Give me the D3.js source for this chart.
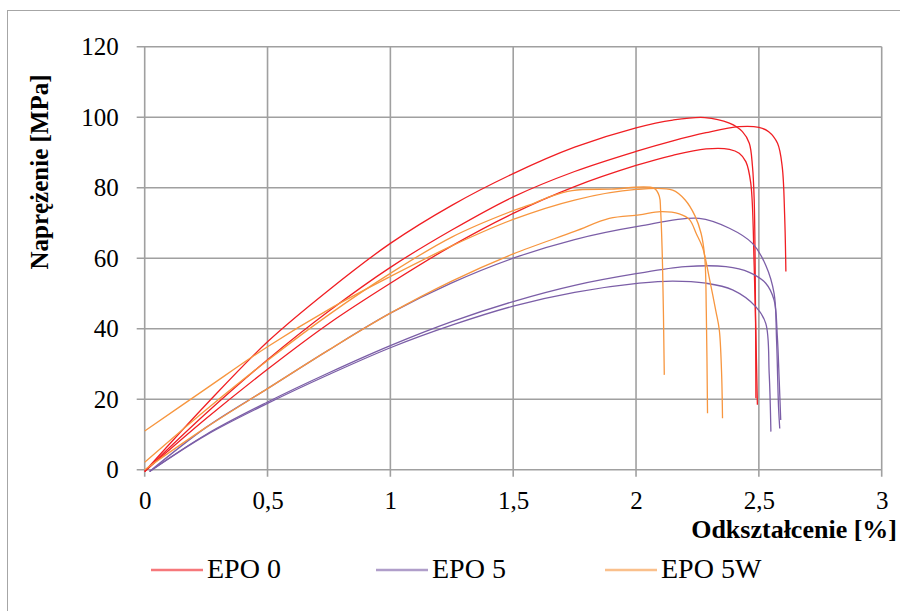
<!DOCTYPE html>
<html>
<head>
<meta charset="utf-8">
<script src="https://cdn.jsdelivr.net/npm/d3@7"></script>
<style>
  body { margin: 0; background: #fff; }
  svg text { font-family: "Liberation Serif", "Times New Roman", Tinos, "DejaVu Serif", serif; fill: #000; }
</style>
</head>
<body>
<script>
// strain [%] vs stress [MPa]
var seriesNames = ["EPO 0", "EPO 5", "EPO 5W"];
var seriesColors = ["#f01e23", "#7b5ea7", "#f7963f"];

var epo0a = [[0,-0.5],[0.25,18.5],[0.5,36.3],[0.75,51],[1,64.2],[1.25,75],[1.5,84],[1.75,91.5],[2,97],[2.15,99.2],[2.28,99.9],[2.38,98.3],[2.433,95.9],[2.461,92.6],[2.474,86],[2.481,76.5],[2.486,48],[2.488,20.3]];
var epo0b = [[0,-0.5],[0.25,16],[0.5,31.2],[0.75,45],[1,57.4],[1.25,68],[1.5,77.4],[1.75,84.6],[2,90.3],[2.15,93.3],[2.285,95.6],[2.42,97.3],[2.5,97.1],[2.54,95.9],[2.576,92.6],[2.595,86],[2.605,72],[2.61,56.2]];
var epo0c = [[0,-0.5],[0.25,14.5],[0.5,28.5],[0.75,41.5],[1,52.9],[1.25,63.5],[1.5,72.7],[1.75,80.3],[2,86.3],[2.15,89.2],[2.285,91],[2.38,90.9],[2.42,89.8],[2.447,87.4],[2.467,81.3],[2.481,57.6],[2.494,18.4]];

var epo5a = [[0.02,-0.5],[0.25,12],[0.5,23],[0.75,34],[1,44.4],[1.25,53],[1.5,60],[1.75,65.3],[2.013,69.1],[2.257,71.3],[2.38,68.5],[2.474,64.2],[2.528,58],[2.562,50],[2.572,36.8],[2.58,17.9],[2.585,11.7]];
var epo5b = [[0.02,-0.5],[0.25,10],[0.5,19.2],[0.75,27.5],[1,35.2],[1.25,42],[1.5,47.7],[1.75,52.3],[2,55.6],[2.2,57.6],[2.366,57.6],[2.461,56],[2.528,52.9],[2.562,48.1],[2.575,38],[2.583,25],[2.589,14.1]];
var epo5c = [[0.02,-0.5],[0.25,9.8],[0.5,18.8],[0.75,27],[1,34.6],[1.25,41],[1.5,46.4],[1.75,50.3],[2.013,52.9],[2.149,53.5],[2.285,52.9],[2.393,51],[2.488,46.2],[2.528,41.5],[2.542,27.3],[2.549,10.8]];

var epo5wa = [[0,2.1],[0.25,17],[0.5,31],[0.75,44],[1,55.7],[1.25,66],[1.5,73.5],[1.567,75.1],[1.65,77.5],[1.74,79.2],[1.9,79.6],[2.074,79.8],[2.095,77.5],[2.1,73.7],[2.108,57.6],[2.115,26.9]];
var epo5wb = [[0,11],[0.25,23],[0.5,34.9],[0.75,45.5],[1,54.8],[1.25,63.5],[1.5,71],[1.75,76.5],[2,79.5],[2.149,79.3],[2.2,76.5],[2.24,72],[2.265,67],[2.28,60],[2.286,45],[2.291,16]];
var epo5wc = [[0,0],[0.25,12],[0.5,23],[0.75,34],[1,44.4],[1.25,53.5],[1.5,61.2],[1.75,67.6],[1.891,71.3],[2.013,72.3],[2.1,73.2],[2.176,72.6],[2.217,71],[2.245,67],[2.271,63],[2.3,53.8],[2.325,45],[2.339,39.6],[2.348,28],[2.352,14.6]];

var xTicks = [0, 0.5, 1, 1.5, 2, 2.5, 3];
var yTicks = [0, 20, 40, 60, 80, 100, 120];

var curves = [
  {s: 0, pts: epo0a}, {s: 0, pts: epo0b}, {s: 0, pts: epo0c},
  {s: 1, pts: epo5a}, {s: 1, pts: epo5b}, {s: 1, pts: epo5c},
  {s: 2, pts: epo5wa}, {s: 2, pts: epo5wb}, {s: 2, pts: epo5wc}
];

var width = 900, height = 611;
var serif = "'Liberation Serif', 'Times New Roman', Tinos, 'DejaVu Serif', serif";

var svg = d3.select("body").append("svg")
    .attr("width", width)
    .attr("height", height);

// outer chart frame
svg.append("rect")
    .attr("x", 7.5).attr("y", 10.5)
    .attr("width", 920).attr("height", 640)
    .style("fill", "none")
    .style("stroke", "#a6a6a6")
    .style("stroke-width", 1);

var x = d3.scaleLinear().domain([0, 3]).range([144.7, 881.7]);
var y = d3.scaleLinear().domain([0, 120]).range([469.7, 46.7]);

// grid + little tick stubs outside the plot
svg.append("g").selectAll("line.hgrid")
    .data(yTicks).enter().append("line")
    .attr("class", "hgrid")
    .attr("x1", x(0) - 8).attr("x2", x(3))
    .attr("y1", function(d) { return y(d); })
    .attr("y2", function(d) { return y(d); })
    .style("stroke", "#a0a0a0")
    .style("stroke-width", 1.6);

svg.append("g").selectAll("line.vgrid")
    .data(xTicks).enter().append("line")
    .attr("class", "vgrid")
    .attr("y1", y(120)).attr("y2", y(0) + 7)
    .attr("x1", function(d) { return x(d); })
    .attr("x2", function(d) { return x(d); })
    .style("stroke", "#a0a0a0")
    .style("stroke-width", 1.6);

var fmt = function(d) { return String(d).replace(".", ","); };

var yAxis = svg.append("g")
    .attr("transform", "translate(" + x(0) + ",0)")
    .call(d3.axisLeft(y).tickValues(yTicks).tickSize(0).tickPadding(26).tickFormat(fmt));
var xAxis = svg.append("g")
    .attr("transform", "translate(0," + y(0) + ")")
    .call(d3.axisBottom(x).tickValues(xTicks).tickSize(0).tickPadding(22).tickFormat(fmt));

[yAxis, xAxis].forEach(function(a) {
  a.attr("font-family", null).attr("font-size", null);
  a.select(".domain").remove();
  a.selectAll("text")
    .style("font-family", serif)
    .style("font-size", "25px")
    .style("fill", "#000");
});

// axis titles
svg.append("text")
    .attr("x", 897).attr("y", 538)
    .attr("text-anchor", "end")
    .style("font-family", serif)
    .style("font-size", "26px")
    .style("font-weight", "bold")
    .text("Odkształcenie [%]");

svg.append("text")
    .attr("transform", "translate(48,172) rotate(-90)")
    .attr("text-anchor", "middle")
    .style("font-family", serif)
    .style("font-size", "25px")
    .style("font-weight", "bold")
    .text("Naprężenie [MPa]");

// curves
var line = d3.line()
    .x(function(d) { return x(d[0]); })
    .y(function(d) { return y(d[1]); })
    .curve(d3.curveCatmullRom.alpha(0.5));

svg.append("g").selectAll("path")
    .data(curves).enter().append("path")
    .attr("d", function(d) { return line(d.pts); })
    .style("fill", "none")
    .style("stroke", function(d) { return seriesColors[d.s]; })
    .style("stroke-width", 1.3);

// legend
var legendX = [151, 376, 605];
var legend = svg.append("g").selectAll("g")
    .data(seriesNames).enter().append("g")
    .attr("transform", function(d, i) { return "translate(" + legendX[i] + ",570)"; });

legend.append("line")
    .attr("x1", 0).attr("x2", 52)
    .style("stroke", function(d, i) { return seriesColors[i]; })
    .style("stroke-opacity", 0.6)
    .style("stroke-width", 2.5);

legend.append("text")
    .attr("x", 56).attr("y", 8)
    .style("font-family", serif)
    .style("font-size", "28px")
    .text(function(d) { return d; });
</script>
</body>
</html>
